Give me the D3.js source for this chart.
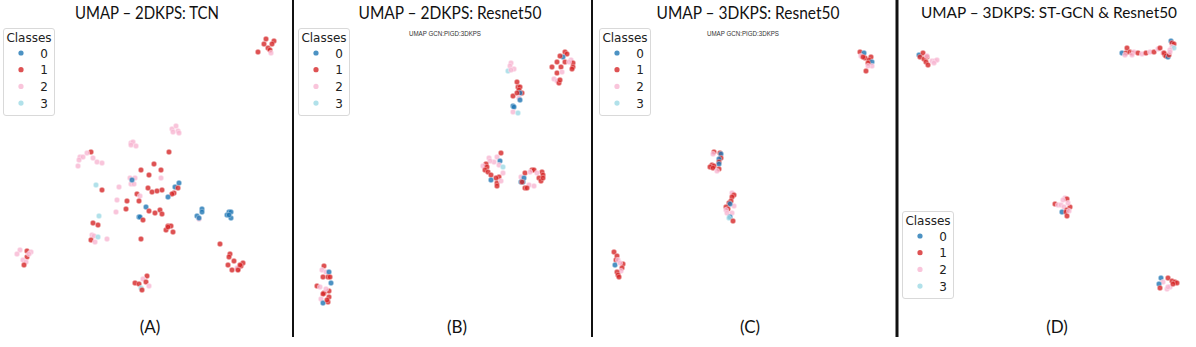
<!DOCTYPE html>
<html><head><meta charset="utf-8">
<script src="https://cdn.jsdelivr.net/npm/d3@7"></script>
<style>html,body{margin:0;padding:0;background:#fff;}svg{display:block;}</style>
</head><body>
<svg id="c" width="1196" height="347"></svg>
<script>
// ---- data ----
const classes = ["0","1","2","3"];
const classColors = ["#1f77b4","#d62728","#f7b6d2","#9edae5"];
const titles = ["UMAP – 2DKPS: TCN","UMAP – 2DKPS: Resnet50","UMAP – 3DKPS: Resnet50","UMAP – 3DKPS: ST-GCN & Resnet50"];
const subtitles = ["", "UMAP GCN:PIGD:3DKPS", "UMAP GCN:PIGD:3DKPS", ""];
const panelLabels = ["(A)","(B)","(C)","(D)"];
const legendTitle = "Classes";

// [umap-x, umap-y, class]
const pointsA = [
 [26.6,26.1,1],[27.4,25.9,1],[27.2,25.6,1],[26.4,25.6,1],[26.8,25.2,1],[27.0,25.0,1],[25.8,24.8,1],[27.1,24.7,2],
 [17.2,17.1,2],[17.6,17.4,2],[17.8,16.9,2],[17.3,16.8,2],[17.9,16.7,2],
 [13.1,15.7,2],[13.3,15.8,2],[13.6,15.4,2],[13.1,15.5,2],
 [9.1,14.8,1],[8.7,14.7,2],[8.0,14.3,2],[8.3,14.3,2],[7.9,14.0,2],[9.3,14.2,2],[9.7,13.8,2],[10.2,13.7,2],[7.8,13.4,2],
 [16.9,14.8,1],
 [15.4,13.6,1],[14.1,13.0,1],[16.1,13.0,1],[14.9,12.5,1],
 [16.1,12.2,2],[13.0,12.2,2],[13.5,12.2,2],[13.1,11.6,2],[13.4,11.6,2],[13.2,12.0,0],
 [9.6,11.5,3],[11.9,11.3,2],[10.2,11.0,1],
 [14.8,11.2,1],[15.2,10.8,1],[15.7,10.9,1],[16.2,11.0,1],
 [17.9,11.7,0],[17.5,11.3,0],[17.8,11.2,1],[17.4,10.7,1],[17.2,10.6,1],[16.8,10.3,0],
 [13.7,10.6,1],[14.0,10.4,2],
 [11.7,10.0,2],[12.7,9.9,1],[13.9,9.9,1],
 [14.6,9.3,0],[14.9,8.9,1],[15.5,8.7,1],[16.0,9.0,1],[16.2,8.6,1],
 [11.6,8.8,2],[12.6,9.1,1],[9.9,8.4,3],
 [13.9,8.3,0],[14.0,8.3,0],[14.3,8.0,1],
 [20.2,9.1,0],[20.2,8.8,0],[19.7,8.4,0],[19.9,8.1,2],[19.9,8.2,0],
 [22.9,8.8,0],[23.1,8.8,0],[22.7,8.5,0],[23.1,8.2,0],[22.9,8.5,0],
 [9.3,7.7,1],[9.8,7.5,1],
 [16.8,7.4,1],[17.1,7.4,1],[16.6,7.0,1],[17.3,6.8,1],[16.8,7.3,1],
 [9.2,6.5,2],[9.4,6.4,2],[9.8,6.3,3],[10.7,6.1,2],[9.1,6.0,1],[9.5,5.8,2],
 [14.1,6.1,1],[22.0,5.6,1],
 [2.0,5.0,2],[2.7,4.9,1],[3.1,4.8,2],[1.7,4.6,2],[2.7,4.3,1],[2.3,4.0,2],[2.6,3.8,2],[2.4,3.5,1],[2.9,4.6,2],
 [23.0,4.6,1],[22.9,4.3,1],[23.4,3.9,1],[22.8,3.5,1],[24.3,3.7,1],[24.1,3.4,1],[23.8,3.1,1],[23.7,3.2,2],[23.2,3.0,1],[23.8,3.0,1],[24.0,3.5,1],
 [14.7,2.4,1],[14.3,2.1,2],[13.5,1.7,1],[13.9,1.6,1],[14.6,1.8,1],[14.9,1.4,2],[14.1,1.2,3],[14.2,1.0,1]
];
const pointsB = [
 [21.8,23.7,2],[21.7,23.4,2],[22.1,23.1,2],[21.5,22.9,3],[21.8,23.0,2],
 [22.4,21.8,1],[22.5,21.3,1],[22.7,21.3,1],[22.6,21.0,1],[22.9,20.7,1],[22.0,20.4,1],[22.7,20.7,0],[22.4,20.7,1],[22.6,20.2,2],[22.7,20.0,0],[22.0,19.4,0],[22.1,19.3,0],[22.0,18.8,2],[22.5,18.7,3],
 [27.2,24.8,1],[27.4,24.6,1],[27.0,24.3,0],[26.7,24.4,1],[27.8,24.0,2],[27.2,23.8,1],[26.4,23.8,1],[28.0,23.7,1],[28.0,23.3,1],[25.9,23.3,1],[26.8,23.3,1],[26.4,22.7,1],[26.9,22.8,2],[27.9,23.1,1],[26.1,22.1,2],[26.4,21.9,2],[26.6,21.7,1],[26.7,22.0,1],[27.6,23.8,2],
 [20.8,14.7,1],[19.6,14.2,2],[20.4,14.3,2],[20.7,13.9,0],[20.1,13.8,2],[19.7,13.9,2],[19.3,13.6,1],[19.0,13.4,2],[19.4,13.3,1],[19.2,13.0,1],[19.5,12.8,1],[20.6,13.5,2],[21.0,13.3,3],[19.8,12.5,1],[21.0,12.7,2],[20.6,12.3,1],[20.3,12.2,1],[19.8,12.0,0],[20.4,11.7,1],[20.8,11.9,2],[20.4,11.4,1],
 [23.9,13.0,1],[24.1,13.0,1],[24.9,12.8,1],[23.2,12.7,1],[23.7,12.8,2],[24.4,12.7,2],[22.8,12.3,2],[23.1,12.2,0],[25.0,12.5,1],[24.6,12.2,1],[24.8,11.9,1],[25.0,12.2,1],[22.8,11.8,0],[23.0,11.8,0],[22.9,11.8,1],[23.6,11.5,2],[24.1,11.4,2],[23.2,11.2,1],[23.4,11.2,1],
 [3.1,3.4,1],[2.9,3.0,2],[3.3,2.8,2],[3.6,2.8,0],[3.0,2.3,1],[3.5,2.3,1],[3.7,2.3,1],[3.8,1.7,0],[2.4,1.4,1],[2.7,1.3,2],[3.6,0.9,1],[3.1,0.7,1],[3.0,0.6,1],[3.3,1.1,2],[3.6,0.3,1],[3.5,-0.2,1],[2.8,0.1,2],[3.0,-0.3,0],[3.4,0.0,1]
];
const pointsC = [
 [26.8,24.8,1],[27.2,24.7,0],[26.9,24.4,2],[27.3,24.2,1],[27.9,24.3,1],[27.7,24.0,1],[28.0,23.8,0],[28.0,23.4,2],[27.6,23.7,1],[27.6,23.4,2],[27.4,22.9,1],[27.1,24.3,1],
 [12.2,14.8,1],[12.1,14.6,2],[12.8,14.7,1],[12.9,14.6,0],[12.9,14.2,1],[12.7,14.1,0],[12.7,13.8,1],[12.7,13.6,0],[12.0,13.5,1],[12.2,13.4,1],[11.8,13.3,1],[12.1,13.2,1],[12.7,13.1,1],[12.5,12.9,2],
 [14.0,10.7,2],[14.2,10.5,1],[14.0,10.3,1],[13.9,9.9,1],[14.2,9.4,2],[13.7,9.7,1],[13.8,9.6,0],[13.4,9.3,1],[13.6,9.1,1],[13.4,9.0,2],[13.5,8.7,2],[14.0,8.7,2],[13.8,8.3,0],[13.7,8.2,3],[14.1,7.9,1],
 [2.2,4.8,1],[2.5,4.4,1],[2.4,4.0,1],[2.6,4.0,2],[2.3,3.5,0],[3.1,3.6,1],[2.8,3.7,2],[3.0,3.2,1],[2.9,2.9,2],[2.5,2.8,1],[2.6,2.5,1],[2.7,2.3,1]
];
const pointsD = [
 [2.1,24.5,0],[2.5,24.7,1],[2.2,24.3,1],[2.6,24.1,1],[2.9,24.3,1],[2.9,24.4,2],[2.8,23.8,1],[3.0,23.5,1],[3.4,23.9,2],[3.7,23.9,2],[3.9,24.0,2],[3.6,23.7,2],
 [22.4,24.7,0],[22.8,24.7,1],[22.9,25.2,1],[22.7,24.5,2],[23.2,24.8,1],[23.4,24.7,1],[23.6,24.8,2],[23.4,24.5,2],[24.0,24.7,1],[24.4,24.6,2],[24.8,24.7,1],[25.2,24.8,2],[25.6,24.8,1],[26.0,25.1,2],[26.2,25.2,1],[26.5,24.7,2],[26.7,24.5,1],
 [27.3,25.9,0],[27.4,25.7,1],[27.6,25.6,1],[27.4,25.3,2],[27.6,25.2,3],[27.2,25.0,2],[26.6,24.7,1],[26.8,24.4,1],[27.0,24.3,0],[27.1,24.5,1],[27.2,24.8,2],
 [16.7,10.2,2],[16.9,10.1,1],[16.5,10.0,2],[15.7,9.6,1],[16.0,9.5,2],[16.3,9.5,2],[17.2,9.3,1],[17.0,9.7,2],[16.6,9.3,2],[16.4,8.8,0],[16.9,9.0,1],[16.8,8.8,1],[16.9,8.4,1],[17.1,8.9,2],
 [26.3,2.2,0],[27.0,2.2,1],[27.4,1.9,1],[27.7,1.8,1],[27.9,1.7,1],[26.5,1.8,2],[26.1,1.6,0],[26.2,1.2,1],[26.9,1.1,2],[27.2,1.3,2],[27.5,1.6,1],[27.0,1.3,2]
];
const panelPoints = [pointsA, pointsB, pointsC, pointsD];

// ---- layout ----
const svg = d3.select("#c");
const panelLeft = [0, 293, 592, 898];
const titleCenter = [147, 450, 748, 1049];
const titleWidth = [144, 183, 183, 256];
const titleSize = [18, 18, 18, 15];
const titleY = [19, 19, 19, 18];
const labelCenter = [150, 457, 750, 1057];
const legendPos = [[3,28],[298,28],[599,28],[902,211]];
const color = d3.scaleOrdinal().domain(classes).range(classColors);
const font = "Lato,'Liberation Sans',sans-serif";

// separators
[293, 592, 897].forEach((x,i) => {
  svg.append("line").attr("x1",x).attr("x2",x).attr("y1",0).attr("y2",337)
    .attr("stroke","#111").attr("stroke-width", i===2 ? 3 : 2);
});

panelPoints.forEach((pts, p) => {
  const L = panelLeft[p];
  const x = d3.scaleLinear().domain([0,30]).range([L, L+300]);
  const y = d3.scaleLinear().domain([0,30]).range([300, 0]);
  const g = svg.append("g");
  g.selectAll("circle").data(pts).join("circle")
    .attr("cx", d => x(d[0])).attr("cy", d => y(d[1])).attr("r", 2.7)
    .attr("fill", d => color(classes[d[2]])).attr("fill-opacity", 0.8)
    .attr("stroke","#fff").attr("stroke-width",0.3);

  svg.append("text").attr("x", titleCenter[p]).attr("y", titleY[p])
    .attr("text-anchor","middle").attr("font-family", font).attr("font-size", titleSize[p])
    .attr("textLength", titleWidth[p]).attr("lengthAdjust","spacingAndGlyphs")
    .attr("fill","#111").text(titles[p]);
  if (subtitles[p]) {
    svg.append("text").attr("x", titleCenter[p] - 5).attr("y", 36)
      .attr("text-anchor","middle").attr("font-family","'Liberation Sans',sans-serif").attr("font-size",6.5)
      .attr("textLength",72).attr("lengthAdjust","spacingAndGlyphs")
      .attr("fill","#333").text(subtitles[p]);
  }
  svg.append("text").attr("x", labelCenter[p]).attr("y", 333)
    .attr("text-anchor","middle").attr("font-family", font).attr("font-size", 17)
    .attr("fill","#111").text(panelLabels[p]);

  // legend
  const [lx, ly] = legendPos[p];
  const lg = svg.append("g").attr("transform", `translate(${lx},${ly})`);
  lg.append("rect").attr("x",0.5).attr("y",0.5).attr("width",51).attr("height",87).attr("rx",2.5)
    .attr("fill","#fff").attr("fill-opacity",0.8).attr("stroke","#d9d9d9").attr("stroke-width",1);
  lg.append("text").attr("x",26).attr("y",14).attr("text-anchor","middle")
    .attr("font-family","'DejaVu Sans',sans-serif").attr("font-size",12).attr("fill","#222").text(legendTitle);
  classes.forEach((c, i) => {
    lg.append("circle").attr("cx",18).attr("cy",25 + i*16.7).attr("r",2.6)
      .attr("fill", color(c)).attr("fill-opacity",0.8);
    lg.append("text").attr("x",41).attr("y",29.5 + i*16.7).attr("text-anchor","middle")
      .attr("font-family","'DejaVu Sans',sans-serif").attr("font-size",12).attr("fill","#222").text(c);
  });
});
</script>
</body></html>
